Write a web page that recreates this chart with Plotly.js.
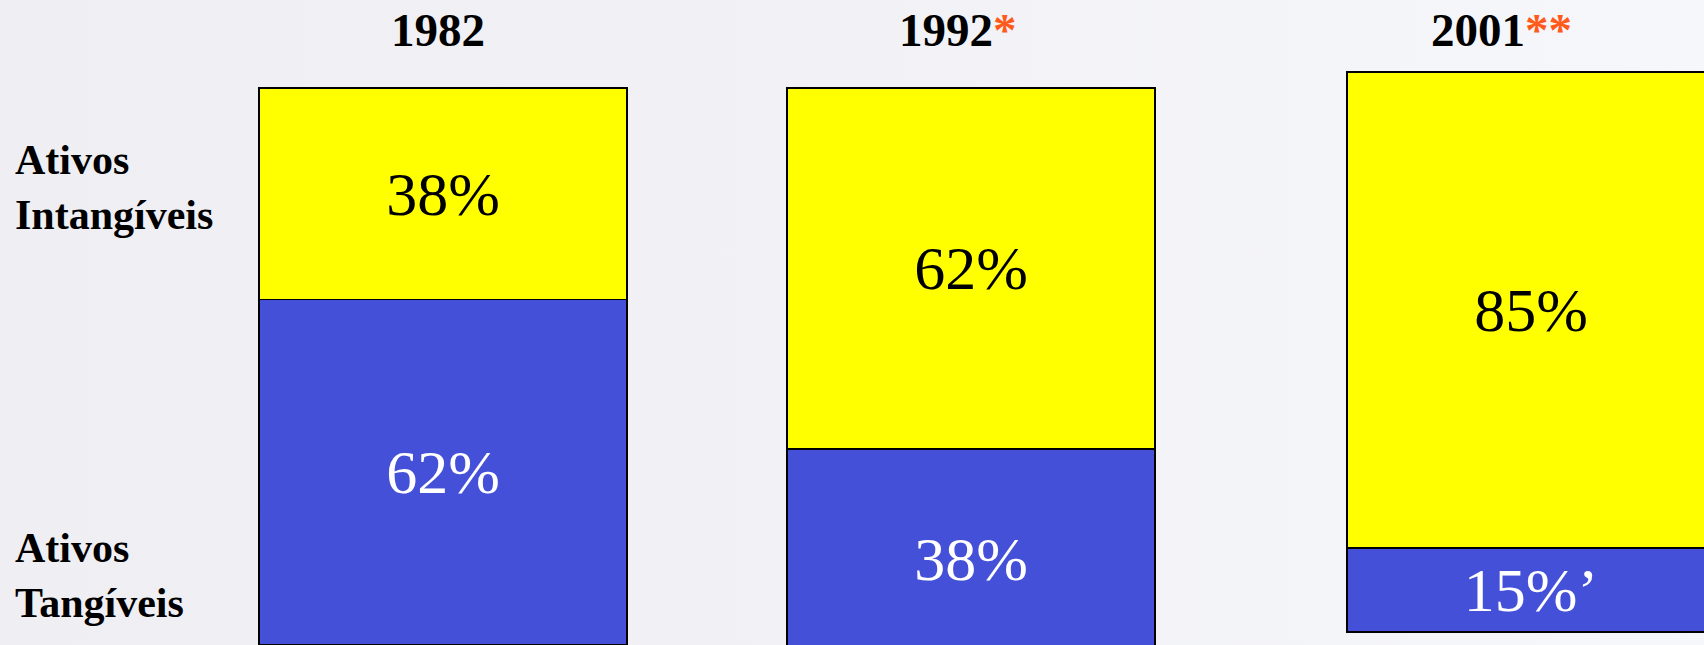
<!DOCTYPE html>
<html>
<head>
<meta charset="utf-8">
<script src="https://cdn.plot.ly/plotly-3.0.1.min.js"></script>
<style>
  html, body { margin: 0; padding: 0; overflow: hidden; }
  body { width: 1704px; height: 645px; background: linear-gradient(to right, #eeeef3 0%, #f1f1f6 50%, #f6f7fb 100%); }
  #chart { width: 1704px; height: 645px; }
</style>
</head>
<body>
<div id="chart"></div>
<script>
// ---- data ----
const years = ['1982', '1992', '2001'];
const yearMarks = ['', '*', '**'];
const tangiveis = [62, 38, 15];      // Ativos Tangíveis (%)
const intangiveis = [38, 62, 85];    // Ativos Intangíveis (%)
const tangSuffix = ['', '', '\u2019'];
const rowLabels = ['Ativos<br>Intangíveis', 'Ativos<br>Tangíveis'];

// ---- layout geometry (pixels of the 1704x645 page) ----
const W = 1704, H = 645, PAD = 4;
const boxes = [
  {l: 259, r: 627, t: 88, b: 645},
  {l: 787, r: 1155, t: 88, b: 670},
  {l: 1347, r: 1715, t: 72, b: 632}
];
const titleX = [438, 958, 1501];

const BLUE = '#4450d8', YELLOW = '#ffff00';
const serif = 'Liberation Serif, Times New Roman, serif';

const traces = [];
const layout = {
  width: W, height: H,
  margin: {l: 0, r: 0, t: 0, b: 0},
  paper_bgcolor: 'rgba(0,0,0,0)',
  plot_bgcolor: 'rgba(0,0,0,0)',
  barmode: 'stack',
  bargap: 0,
  showlegend: false,
  hovermode: false,
  annotations: []
};

years.forEach((yr, i) => {
  const bx = boxes[i];
  const xa = i === 0 ? 'x' : 'x' + (i + 1);
  const ya = i === 0 ? 'y' : 'y' + (i + 1);
  const xk = i === 0 ? 'xaxis' : 'xaxis' + (i + 1);
  const yk = i === 0 ? 'yaxis' : 'yaxis' + (i + 1);

  const unit = bx.r - bx.l, c = (bx.l + bx.r) / 2;
  const dl = Math.max(bx.l - PAD, 0), dr = Math.min(bx.r + PAD, W);
  const k = (bx.b - bx.t) / 100;
  const dt = Math.max(bx.t - PAD, 0), db = Math.min(bx.b + PAD, H);

  layout[xk] = {
    domain: [dl / W, dr / W], range: [(dl - c) / unit, (dr - c) / unit],
    visible: false, fixedrange: true, type: 'category', anchor: ya
  };
  layout[yk] = {
    domain: [1 - db / H, 1 - dt / H], range: [(bx.b - db) / k, (bx.b - dt) / k],
    visible: false, fixedrange: true, anchor: xa
  };

  traces.push({
    type: 'bar', x: [yr], y: [tangiveis[i]], xaxis: xa, yaxis: ya, width: 1,
    marker: {color: BLUE, line: {color: '#000', width: 1.5}},
    text: [tangiveis[i] + '%' + tangSuffix[i]], textposition: 'inside',
    insidetextanchor: 'middle', constraintext: 'none',
    textfont: {family: serif, size: 62, color: '#ffffff'}
  });
  traces.push({
    type: 'bar', x: [yr], y: [intangiveis[i]], xaxis: xa, yaxis: ya, width: 1,
    marker: {color: YELLOW, line: {color: '#000', width: 1.5}},
    text: [intangiveis[i] + '%'], textposition: 'inside',
    insidetextanchor: 'middle', constraintext: 'none',
    textfont: {family: serif, size: 62, color: '#000000'}
  });

  layout.annotations.push({
    xref: 'paper', yref: 'paper', x: titleX[i] / W, y: 1 - 30 / H,
    xanchor: 'center', yanchor: 'middle', showarrow: false,
    text: '<b>' + yr + (yearMarks[i] ? '<span style="color:#ff5a1a">' + yearMarks[i] + '</span>' : '') + '</b>',
    font: {family: serif, size: 47, color: '#000'}
  });
});

[[188, rowLabels[0]], [575, rowLabels[1]]].forEach(([py, txt]) => {
  layout.annotations.push({
    xref: 'paper', yref: 'paper', x: 13 / W, y: 1 - py / H,
    xanchor: 'left', yanchor: 'middle', align: 'left', showarrow: false,
    text: '<b>' + txt + '</b>',
    font: {family: serif, size: 42, color: '#000'}
  });
});

Plotly.newPlot('chart', traces, layout, {staticPlot: true, displayModeBar: false});
</script>
</body>
</html>
